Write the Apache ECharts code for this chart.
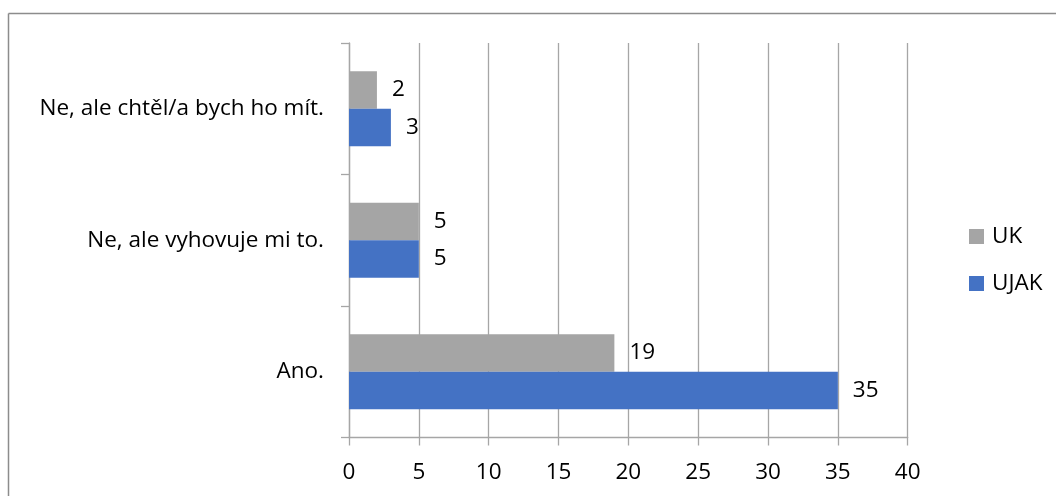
<!DOCTYPE html>
<html>
<head>
<meta charset="utf-8">
<script src="https://cdn.jsdelivr.net/npm/echarts@6/dist/echarts.min.js"></script>
<style>
html,body{margin:0;padding:0;background:#fff;}
#c{width:1056px;height:496px;}
</style>
</head>
<body>
<div id="c"></div>
<script>
const categories = ['Ano.', 'Ne, ale vyhovuje mi to.', 'Ne, ale chtěl/a bych ho mít.'];
const seriesNames = ['UK', 'UJAK'];
const ukValues = [19, 5, 2];
const ujakValues = [35, 5, 3];
const xTicks = { min: 0, max: 40, interval: 5 };

const FONT = 'Open Sans';
const FS = 22.5;
const chart = echarts.init(document.getElementById('c'), null, { renderer: 'canvas' });
const labelCfg = { show: true, position: 'right', distance: 15, color: '#000', fontFamily: FONT, fontSize: FS };
chart.setOption({
  animation: false,
  backgroundColor: '#fff',
  textStyle: { fontFamily: FONT },
  grid: { left: 349, right: 148.3, top: 43, bottom: 58.5 },
  legend: {
    data: seriesNames,
    orient: 'vertical',
    left: 964,
    top: 220,
    itemWidth: 15,
    itemHeight: 15,
    itemGap: 24,
    icon: 'rect',
    textStyle: { color: '#000', fontFamily: FONT, fontSize: FS, padding: [0, 0, 0, 3] }
  },
  xAxis: {
    type: 'value',
    min: xTicks.min, max: xTicks.max, interval: xTicks.interval,
    axisLine: { show: true, lineStyle: { color: '#a6a6a6', width: 1.3 } },
    axisTick: { show: true, length: 8, lineStyle: { color: '#a6a6a6', width: 1.3 } },
    splitLine: { show: true, lineStyle: { color: '#a6a6a6', width: 1.3 } },
    axisLabel: { color: '#000', fontFamily: FONT, fontSize: FS, margin: 24 }
  },
  yAxis: {
    type: 'category',
    data: categories,
    axisLine: { show: true, lineStyle: { color: '#a6a6a6', width: 1.3 } },
    axisTick: { show: true, length: 8, lineStyle: { color: '#a6a6a6', width: 1.3 } },
    axisLabel: { color: '#000', fontFamily: FONT, fontSize: FS, margin: 25 }
  },
  series: [
    { name: 'UK', type: 'bar', data: ukValues, barGap: '0%', barCategoryGap: '43%',
      itemStyle: { color: '#a5a5a5' }, label: labelCfg },
    { name: 'UJAK', type: 'bar', data: ujakValues, barGap: '0%', barCategoryGap: '43%',
      itemStyle: { color: '#4472c4' }, label: labelCfg }
  ],
  graphic: [
    { type: 'line', shape: { x1: 8.5, y1: 13.5, x2: 1056, y2: 13.5 }, style: { stroke: '#8c8c8c', lineWidth: 1.5 } },
    { type: 'line', shape: { x1: 8.5, y1: 13.5, x2: 8.5, y2: 496 }, style: { stroke: '#8c8c8c', lineWidth: 1.5 } }
  ]
});
</script>
</body>
</html>
